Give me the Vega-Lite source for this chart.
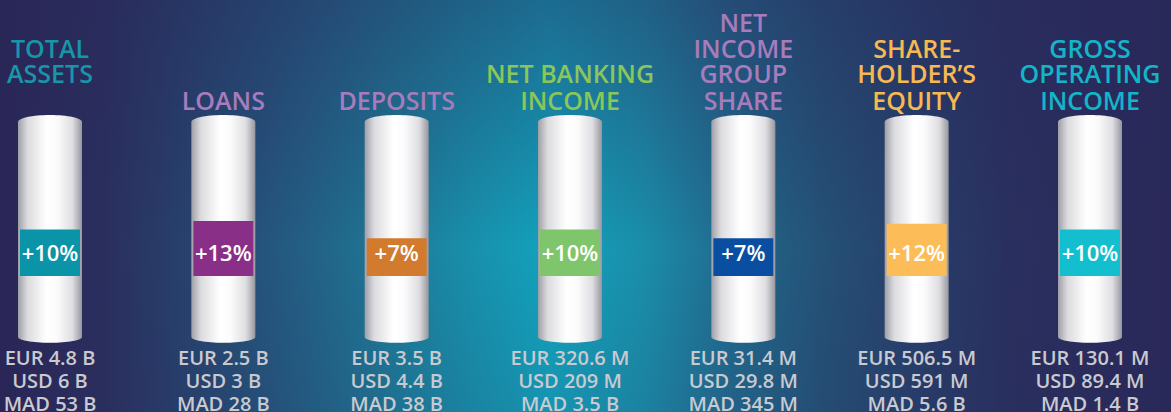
{
  "$schema": "https://vega.github.io/schema/vega-lite/v6.json",
  "width": 1171,
  "height": 412,
  "autosize": {"type": "none"},
  "padding": 0,
  "background": "#292859",
  "config": {"view": {"stroke": null}},
  "data": {
    "values": [
      {"metric": "Total assets", "b3": "", "b2": "TOTAL", "b1": "ASSETS", "b0": "", "pct": 0.10, "eur": "EUR 4.8 B", "usd": "USD 6 B", "mad": "MAD 53 B"},
      {"metric": "Loans", "b3": "", "b2": "", "b1": "", "b0": "LOANS", "pct": 0.13, "eur": "EUR 2.5 B", "usd": "USD 3 B", "mad": "MAD 28 B"},
      {"metric": "Deposits", "b3": "", "b2": "", "b1": "", "b0": "DEPOSITS", "pct": 0.07, "eur": "EUR 3.5 B", "usd": "USD 4.4 B", "mad": "MAD 38 B"},
      {"metric": "Net banking income", "b3": "", "b2": "", "b1": "NET BANKING", "b0": "INCOME", "pct": 0.10, "eur": "EUR 320.6 M", "usd": "USD 209 M", "mad": "MAD 3.5 B"},
      {"metric": "Net income group share", "b3": "NET", "b2": "INCOME", "b1": "GROUP", "b0": "SHARE", "pct": 0.07, "eur": "EUR 31.4 M", "usd": "USD 29.8 M", "mad": "MAD 345 M"},
      {"metric": "Shareholder's equity", "b3": "", "b2": "SHARE-", "b1": "HOLDER’S", "b0": "EQUITY", "pct": 0.12, "eur": "EUR 506.5 M", "usd": "USD 591 M", "mad": "MAD 5.6 B"},
      {"metric": "Gross operating income", "b3": "", "b2": "GROSS", "b1": "OPERATING", "b0": "INCOME", "pct": 0.10, "eur": "EUR 130.1 M", "usd": "USD 89.4 M", "mad": "MAD 1.4 B"}
    ]
  },
  "layer": [
    {
      "data": {"values": [{}]},
      "mark": {
        "type": "rect",
        "fill": {
          "gradient": "linear", "x1": 0, "y1": 0, "x2": 1, "y2": 0,
          "stops": [
            {"offset": 0, "color": "#2a2657"},
            {"offset": 0.09, "color": "#2a2f5e"},
            {"offset": 0.19, "color": "#264a74"},
            {"offset": 0.26, "color": "#235f85"},
            {"offset": 0.33, "color": "#1e7896"},
            {"offset": 0.40, "color": "#188fab"},
            {"offset": 0.47, "color": "#12a3bd"},
            {"offset": 0.55, "color": "#1a8eaa"},
            {"offset": 0.62, "color": "#216b8f"},
            {"offset": 0.70, "color": "#245277"},
            {"offset": 0.78, "color": "#273f6b"},
            {"offset": 0.86, "color": "#29305f"},
            {"offset": 1, "color": "#292859"}
          ]
        }
      },
      "encoding": {"x": {"value": 0}, "x2": {"value": "width"}, "y": {"value": 0}, "y2": {"value": "height"}}
    },
    {
      "data": {"values": [{}]},
      "mark": {
        "type": "rect",
        "fill": {
          "gradient": "linear", "x1": 0, "y1": 0, "x2": 0, "y2": 1,
          "stops": [
            {"offset": 0, "color": "rgba(40,40,90,0.45)"},
            {"offset": 0.6, "color": "rgba(40,40,90,0)"},
            {"offset": 1, "color": "rgba(40,40,90,0.12)"}
          ]
        }
      },
      "encoding": {"x": {"value": 0}, "x2": {"value": "width"}, "y": {"value": 0}, "y2": {"value": "height"}}
    },
    {
      "encoding": {
        "x": {"field": "metric", "type": "nominal", "sort": null, "scale": {"type": "point", "range": [50, 1090], "padding": 0}, "axis": null},
        "color": {
          "field": "metric", "type": "nominal", "sort": null, "legend": null,
          "scale": {
            "domain": ["Total assets", "Loans", "Deposits", "Net banking income", "Net income group share", "Shareholder's equity", "Gross operating income"],
            "range": ["#1896a8", "#a77cbd", "#a77cbd", "#8bc65a", "#a77cbd", "#f8b951", "#12b6c8"]
          }
        }
      },
      "layer": [
        {
          "mark": {
            "type": "bar", "width": 64,
            "fill": {
              "gradient": "linear", "x1": 0, "y1": 0, "x2": 1, "y2": 0,
              "stops": [
                {"offset": 0, "color": "#9e9ea6"},
                {"offset": 0.15, "color": "#dcdce0"},
                {"offset": 0.45, "color": "#ffffff"},
                {"offset": 0.62, "color": "#fbfbfc"},
                {"offset": 0.85, "color": "#dedee2"},
                {"offset": 1, "color": "#96969e"}
              ]
            }
          },
          "encoding": {
            "color": {"value": null},
            "y": {"datum": 0.471, "type": "quantitative", "scale": {"domain": [-0.529, 0.8917], "nice": false, "zero": false}, "axis": null},
            "y2": {"datum": -0.2703}
          }
        },
        {
          "mark": {
            "type": "point", "shape": "M -1 0 A 1 0.22 0 0 1 1 0 Z", "size": 4096, "filled": true, "opacity": 1, "strokeWidth": 0,
            "fill": {
              "gradient": "linear", "x1": 0, "y1": 0, "x2": 1, "y2": 0,
              "stops": [
                {"offset": 0, "color": "#9e9ea6"},
                {"offset": 0.15, "color": "#dcdce0"},
                {"offset": 0.45, "color": "#ffffff"},
                {"offset": 0.62, "color": "#fbfbfc"},
                {"offset": 0.85, "color": "#dedee2"},
                {"offset": 1, "color": "#96969e"}
              ]
            }
          },
          "encoding": {
            "color": {"value": null},
            "y": {"datum": 0.471, "type": "quantitative", "scale": {"domain": [-0.529, 0.8917], "nice": false, "zero": false}, "axis": null}
          }
        },
        {
          "mark": {
            "type": "point", "shape": "M -1 0 A 1 0.18 0 0 0 1 0 Z", "size": 4096, "filled": true, "opacity": 1, "strokeWidth": 0,
            "fill": {
              "gradient": "linear", "x1": 0, "y1": 0, "x2": 1, "y2": 0,
              "stops": [
                {"offset": 0, "color": "#9e9ea6"},
                {"offset": 0.15, "color": "#dcdce0"},
                {"offset": 0.45, "color": "#ffffff"},
                {"offset": 0.62, "color": "#fbfbfc"},
                {"offset": 0.85, "color": "#dedee2"},
                {"offset": 1, "color": "#96969e"}
              ]
            }
          },
          "encoding": {
            "color": {"value": null},
            "y": {"datum": -0.2703, "type": "quantitative", "scale": {"domain": [-0.529, 0.8917], "nice": false, "zero": false}, "axis": null}
          }
        },
        {
          "mark": {"type": "bar", "width": 60},
          "encoding": {
            "color": {"value": null},
            "y": {"field": "pct", "type": "quantitative", "scale": {"domain": [-0.529, 0.8917], "nice": false, "zero": false}, "axis": null},
            "y2": {"datum": -0.06},
            "fill": {
              "field": "metric", "type": "nominal", "sort": null, "legend": null,
              "scale": {
                "domain": ["Total assets", "Loans", "Deposits", "Net banking income", "Net income group share", "Shareholder's equity", "Gross operating income"],
                "range": ["#0b93a7", "#8a2f87", "#d27a2d", "#7fc56b", "#0a4ea2", "#fcbc57", "#13bfce"]
              }
            }
          }
        },
        {
          "mark": {"type": "text", "font": "Open Sans", "fontSize": 22, "fontWeight": 600, "baseline": "middle", "align": "center"},
          "encoding": {
            "color": {"value": "#ffffff"},
            "y": {"datum": 0.0159, "type": "quantitative", "scale": {"domain": [-0.529, 0.8917], "nice": false, "zero": false}, "axis": null},
            "text": {"field": "pct", "type": "quantitative", "format": "+.0%"}
          }
        },
        {
          "mark": {"type": "text", "font": "Open Sans", "fontSize": 25, "fontWeight": 600, "baseline": "alphabetic", "align": "center"},
          "encoding": {
            "y": {"datum": 0.7814, "type": "quantitative", "scale": {"domain": [-0.529, 0.8917], "nice": false, "zero": false}, "axis": null},
            "text": {"field": "b3", "type": "nominal"}
          }
        },
        {
          "mark": {"type": "text", "font": "Open Sans", "fontSize": 25, "fontWeight": 600, "baseline": "alphabetic", "align": "center"},
          "encoding": {
            "y": {"datum": 0.6917, "type": "quantitative", "scale": {"domain": [-0.529, 0.8917], "nice": false, "zero": false}, "axis": null},
            "text": {"field": "b2", "type": "nominal"}
          }
        },
        {
          "mark": {"type": "text", "font": "Open Sans", "fontSize": 25, "fontWeight": 600, "baseline": "alphabetic", "align": "center"},
          "encoding": {
            "y": {"datum": 0.6038, "type": "quantitative", "scale": {"domain": [-0.529, 0.8917], "nice": false, "zero": false}, "axis": null},
            "text": {"field": "b1", "type": "nominal"}
          }
        },
        {
          "mark": {"type": "text", "font": "Open Sans", "fontSize": 25, "fontWeight": 600, "baseline": "alphabetic", "align": "center"},
          "encoding": {
            "y": {"datum": 0.5141, "type": "quantitative", "scale": {"domain": [-0.529, 0.8917], "nice": false, "zero": false}, "axis": null},
            "text": {"field": "b0", "type": "nominal"}
          }
        },
        {
          "mark": {"type": "text", "font": "Open Sans", "fontSize": 20, "fontWeight": 600, "baseline": "middle", "align": "center"},
          "encoding": {
            "color": {"value": "#c9cad0"},
            "y": {"datum": -0.346, "type": "quantitative", "scale": {"domain": [-0.529, 0.8917], "nice": false, "zero": false}, "axis": null},
            "text": {"field": "eur", "type": "nominal"}
          }
        },
        {
          "mark": {"type": "text", "font": "Open Sans", "fontSize": 20, "fontWeight": 600, "baseline": "middle", "align": "center"},
          "encoding": {
            "color": {"value": "#c9cad0"},
            "y": {"datum": -0.4255, "type": "quantitative", "scale": {"domain": [-0.529, 0.8917], "nice": false, "zero": false}, "axis": null},
            "text": {"field": "usd", "type": "nominal"}
          }
        },
        {
          "mark": {"type": "text", "font": "Open Sans", "fontSize": 20, "fontWeight": 600, "baseline": "middle", "align": "center"},
          "encoding": {
            "color": {"value": "#c9cad0"},
            "y": {"datum": -0.5048, "type": "quantitative", "scale": {"domain": [-0.529, 0.8917], "nice": false, "zero": false}, "axis": null},
            "text": {"field": "mad", "type": "nominal"}
          }
        }
      ]
    }
  ]
}
